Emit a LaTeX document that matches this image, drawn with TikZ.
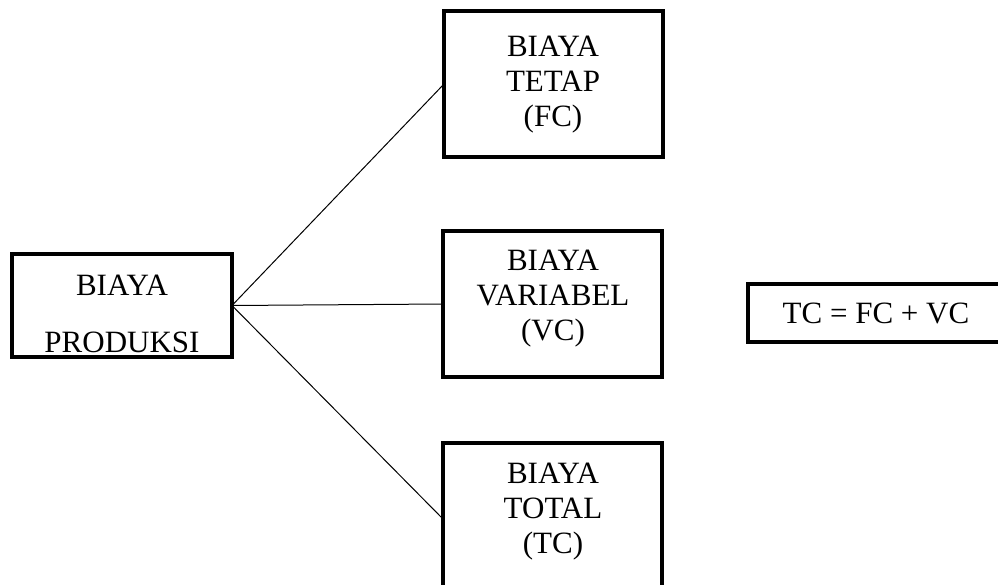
\documentclass[tikz,border=0pt]{standalone}
\usepackage{fontspec}
\setmainfont{Liberation Serif}
\begin{document}
\begin{tikzpicture}[x=1pt,y=-1pt,
  box/.style={draw=black,line width=4pt,inner sep=0pt,outer sep=0pt,fill=none},
  lbl/.style={inner sep=0pt,anchor=base,font=\fontsize{31}{37}\selectfont},
  link/.style={draw=black,line width=1pt}]
\useasboundingbox (0,0) rectangle (998,584);
\clip (0,0) rectangle (998,584);
% text of the boxes
\node[lbl] (fc1) at (553,56) {BIAYA};
\node[lbl] (fc2) at (553,91) {TETAP};
\node[lbl] (fc3) at (553,126) {(FC)};
\node[lbl] (vc1) at (553,270) {BIAYA};
\node[lbl] (vc2) at (553,305) {VARIABEL};
\node[lbl] (vc3) at (553,340) {(VC)};
\node[lbl] (tc1) at (553,483) {BIAYA};
\node[lbl] (tc2) at (553,518) {TOTAL};
\node[lbl] (tc3) at (553,553) {(TC)};
\node[lbl] (bp1) at (122,295) {BIAYA};
\node[lbl] (bp2) at (122,352) {PRODUKSI};
\node[lbl] (eq) at (876,323) {TC = FC + VC};
% boxes
\node[box,minimum width=220pt,minimum height=103pt] (prod) at (122,305.5) {};
\node[box,minimum width=219pt,minimum height=146pt] (fc) at (553.5,84) {};
\node[box,minimum width=219pt,minimum height=146pt] (vc) at (552.5,304) {};
\node[box,minimum width=219pt,minimum height=152pt] (tc) at (552.5,519) {};
\node[box,minimum width=262pt,minimum height=58pt] (eqbox) at (879,313) {};
% connectors
\draw[link] (prod.east) -- (fc.west);
\draw[link] (prod.east) -- (vc.west);
\draw[link] (prod.east) -- (tc.west);
\end{tikzpicture}
\end{document}
